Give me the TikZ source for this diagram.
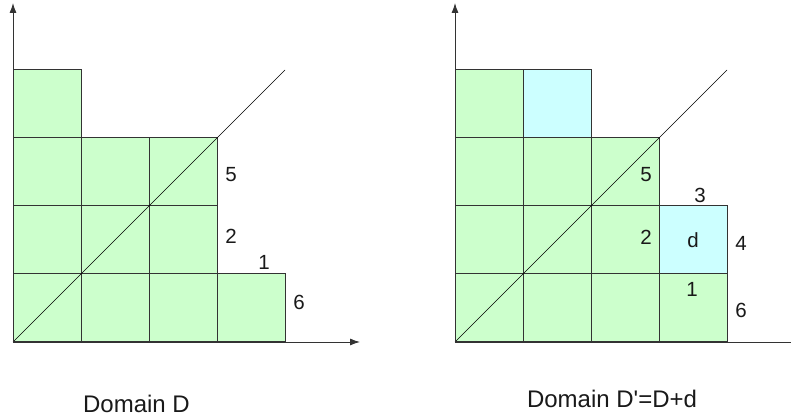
\documentclass[tikz,border=0pt]{standalone}
\usepackage{fontspec}
\setmainfont{Liberation Sans}[Ligatures=TeXOff]
\usepackage{tikz}
\usetikzlibrary{arrows.meta,positioning}
\definecolor{cellgreen}{HTML}{CCFFCC}
\definecolor{cellcyan}{HTML}{CCFFFF}
\tikzset{
  cellbox/.style={
    draw=black!80,
    fill=cellgreen,
    minimum size=68pt,
    inner sep=0pt,
    outer sep=0pt,
    line width=1pt
  },
  addbox/.style={cellbox,fill=cellcyan},
  axisline/.style={-{Latex[length=10pt,width=7pt]},line width=0.9pt,draw=black!80},
  diagline/.style={line width=0.6pt,draw=black},
  sidelabel/.style={font=\fontsize{20.5}{24}\selectfont,text=black!90,inner sep=0pt},
  captionlabel/.style={font=\fontsize{24}{28}\selectfont,text=black!90,inner sep=0pt}
}

\begin{document}
\begin{tikzpicture}[x=1pt,y=1pt]
  \useasboundingbox (0,0) rectangle (791,419);
  % domain D
  \coordinate (lo) at (13,77);
  \foreach \c/\r in {0/0,0/1,0/2,0/3,1/0,1/1,1/2,2/0,2/1,2/2,3/0}
    \node[cellbox] (l-\c-\r) at ([shift={(68*\c+34,68*\r+34)}]lo) {};
  \coordinate (ltop) at ([shift={(272,272)}]lo);
  \coordinate (lyend) at (13,416);
  \coordinate (lxend) at (360,77);
  \draw[diagline] (lo) -- (ltop);
  \draw[axisline] (lo) -- (lyend);
  \draw[axisline] (lo) -- (lxend);
  \node[sidelabel] (l5) at (231,244) {5};
  \node[sidelabel] (l2) at (231,183) {2};
  \node[sidelabel] (l1) at (264,157) {1};
  \node[sidelabel] (l6) at (299,117) {6};
  \node[captionlabel] (lcap) at (136.5,15) {Domain D};
  % domain D'
  \coordinate (ro) at (455,77);
  \foreach \c/\r in {0/0,0/1,0/2,0/3,1/0,1/1,1/2,2/0,2/1,2/2,3/0}
    \node[cellbox] (r-\c-\r) at ([shift={(68*\c+34,68*\r+34)}]ro) {};
  \node[addbox] (r-1-3) at ([shift={(102,238)}]ro) {};
  \node[addbox] (r-3-1) at ([shift={(238,102)}]ro) {};
  \coordinate (rtop) at ([shift={(272,272)}]ro);
  \coordinate (ryend) at (455,416);
  \coordinate (rxend) at (791,77);
  \draw[diagline] (ro) -- (rtop);
  \draw[axisline] (ro) -- (ryend);
  \draw[axisline,-] (ro) -- (rxend);
  \node[sidelabel] (r5) at (646,244) {5};
  \node[sidelabel] (r2) at (646,182) {2};
  \node[sidelabel] (r3) at (700,224) {3};
  \node[sidelabel] (rd) at (r-3-1) {d};
  \node[sidelabel] (r4) at (741,176) {4};
  \node[sidelabel] (r1) at (692,130) {1};
  \node[sidelabel] (r6) at (741,109) {6};
  \node[captionlabel] (rcap) at (612,20.5) {Domain D'=D+d};
\end{tikzpicture}
\end{document}
